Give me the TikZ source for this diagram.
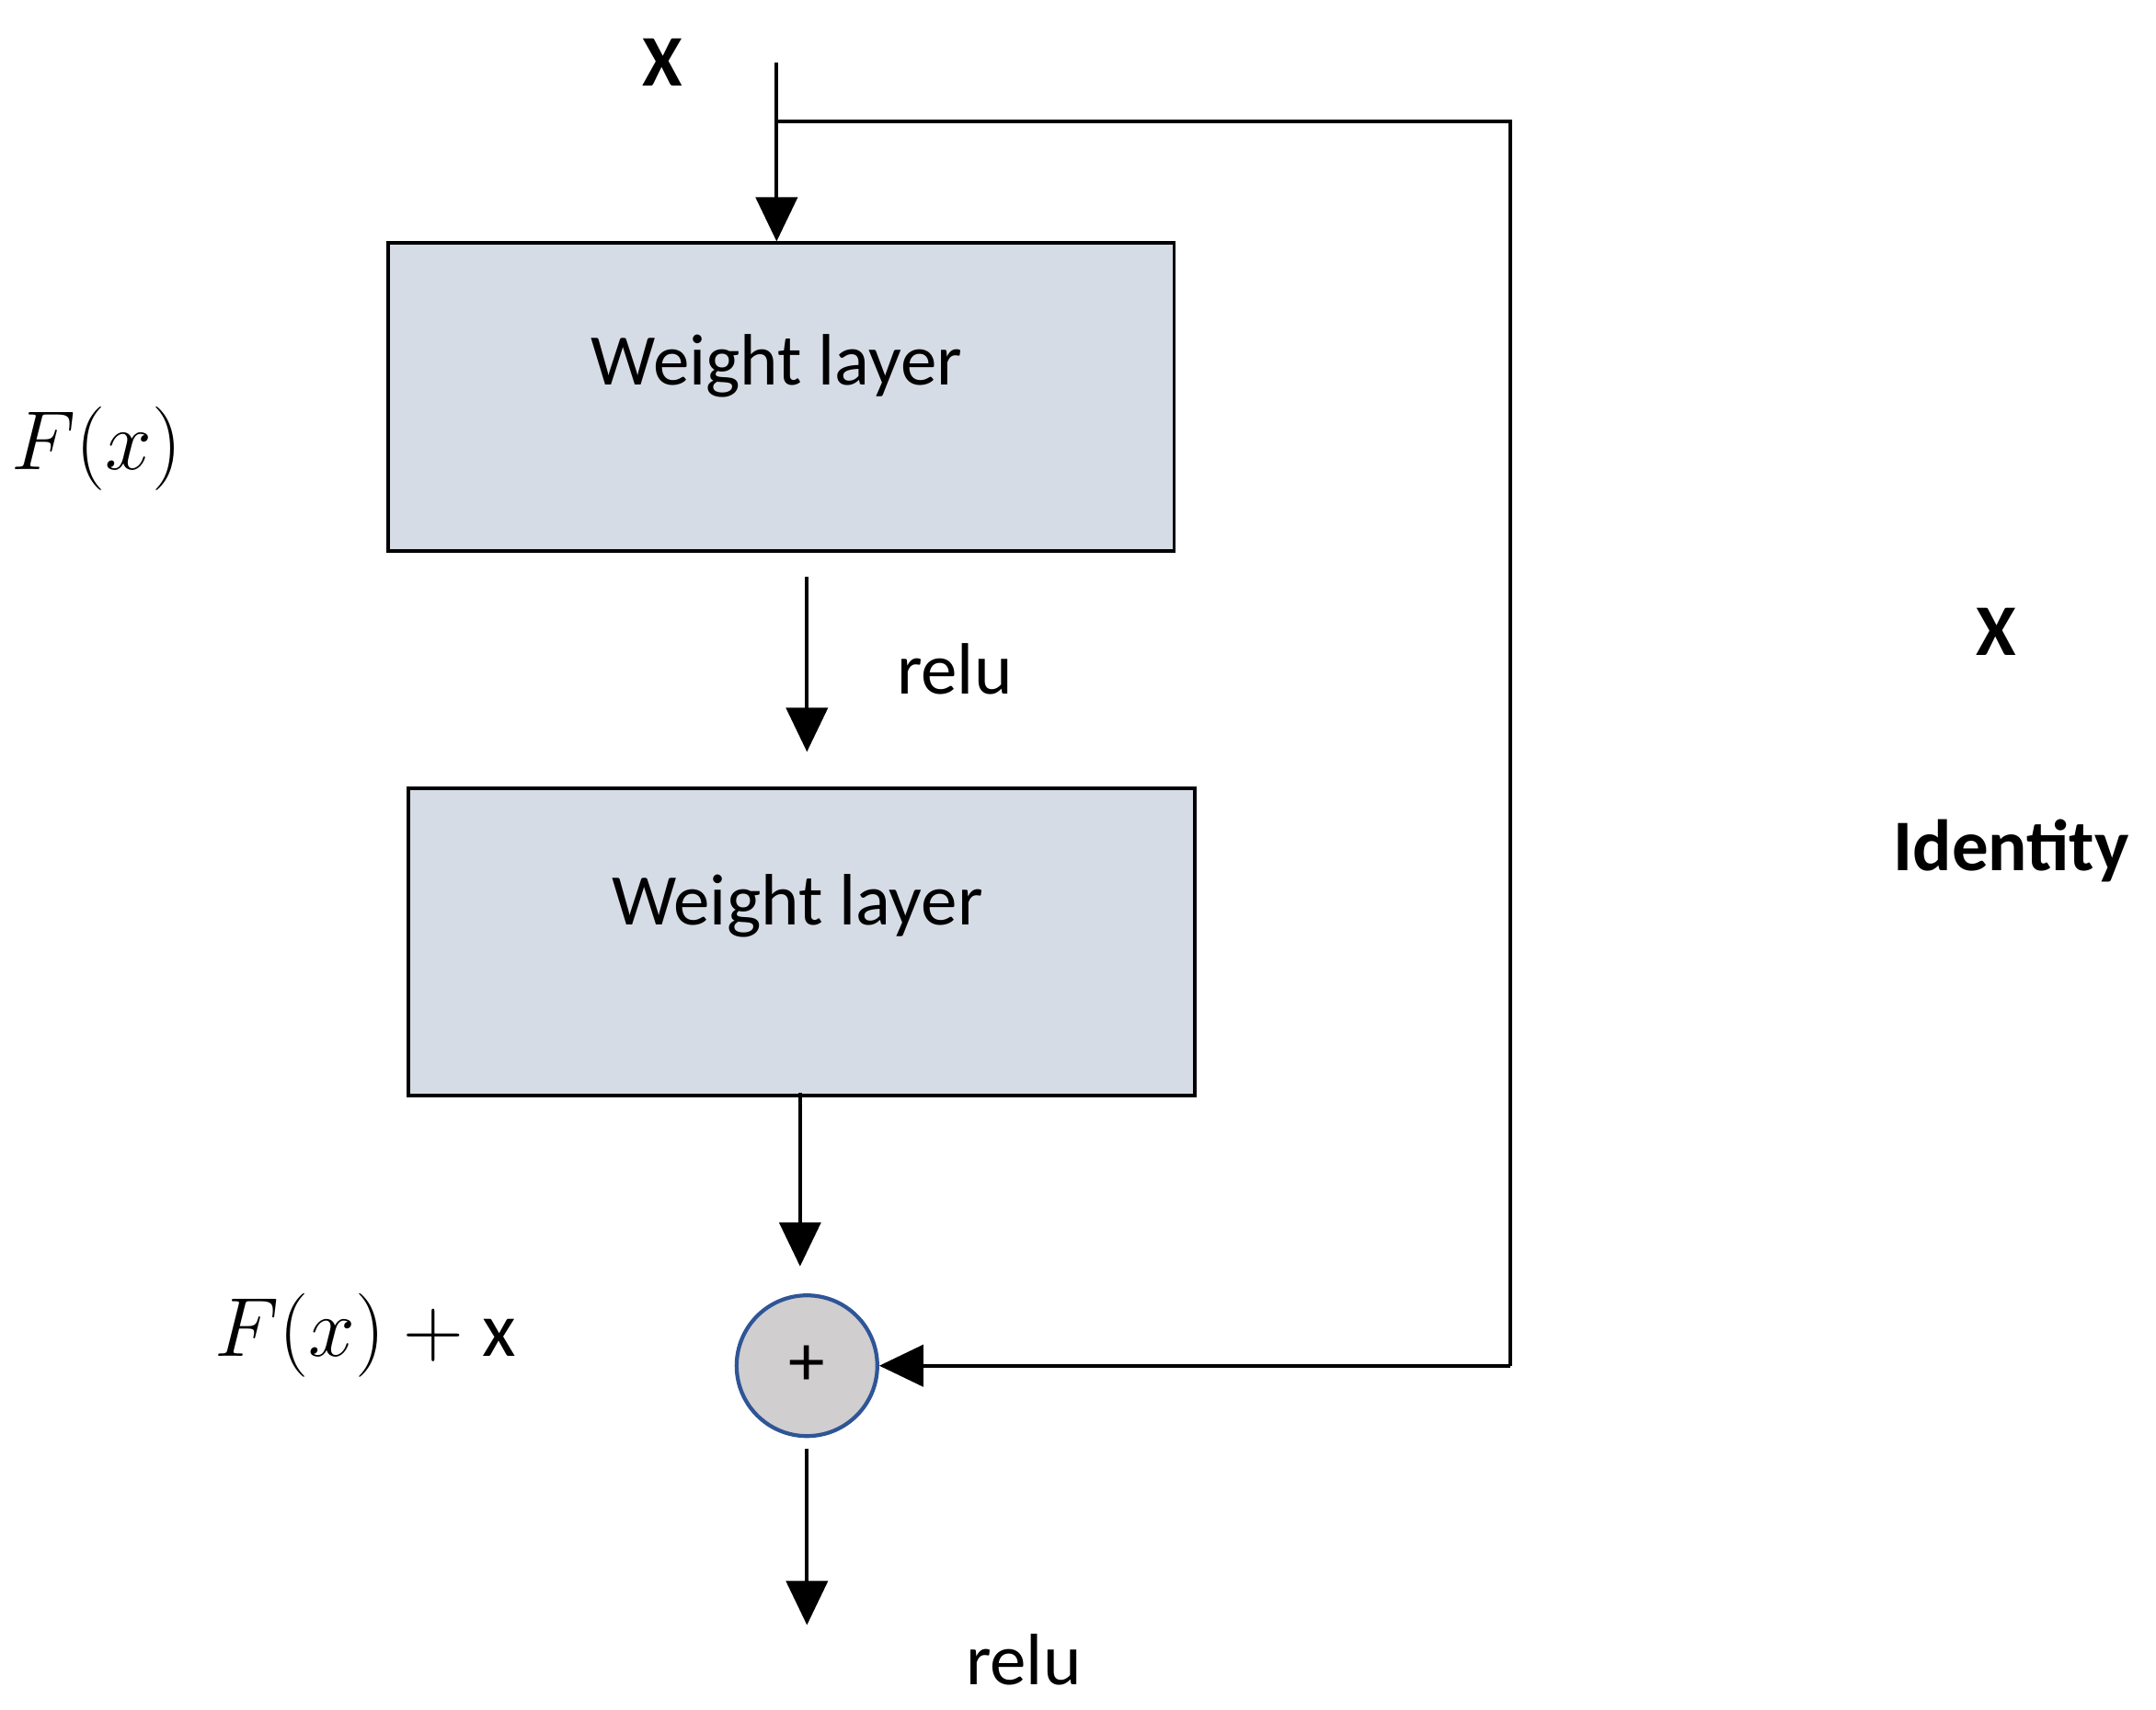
\documentclass[tikz,border=0pt]{standalone}
\usepackage{fontspec}
\setmainfont{Carlito}
\usetikzlibrary{arrows.meta}
\begin{document}
\begin{tikzpicture}[x=0.1mm,y=-0.1mm,
  box/.style={draw=black,line width=0.7pt,fill={rgb,255:red,214;green,220;blue,229},minimum width=57mm,minimum height=22.3mm,inner sep=0,anchor=north west},
  wl/.style={font=\fontsize{15}{18}\selectfont},
  lab/.style={font=\fontsize{15}{18}\selectfont},
  bl/.style={font=\bfseries\fontsize{15}{18}\selectfont},
  arr/.style={line width=0.8pt,-{Triangle[length=3.2mm,width=3mm]}},
  ln/.style={line width=0.8pt}]
\useasboundingbox (0,0) rectangle (1563,1239);
\node[box] (b1) at (280,175) {};
\node[wl] (t1) at (563,265) {Weight layer};
\node[box] (b2) at (295,570) {};
\node[wl] (t2) at (578,657) {Weight layer};
\node[circle,draw={rgb,255:red,47;green,85;blue,151},line width=0.8pt,fill={rgb,255:red,208;green,206;blue,206},minimum size=10.2mm,inner sep=0,font=\fontsize{15}{18}\selectfont] (s) at (585,990) {+};
\coordinate (top) at (563,45);
\coordinate (br) at (563,88);
\coordinate (c1) at (1095,88);
\coordinate (c2) at (1095,990);
\coordinate (a1) at (585,418);
\coordinate (a2) at (585,545);
\coordinate (a3) at (580,792);
\coordinate (a4) at (580,918);
\coordinate (a5) at (585,1050);
\coordinate (a6) at (585,1178);
\draw[arr] (top) -- (b1.north -| top);
\draw[ln] (br) -- (c1) -- (c2);
\draw[arr] (c2) -- (s.east);
\draw[arr] (a1) -- (a2);
\draw[arr] (a3) -- (a4);
\draw[arr] (a5) -- (a6);
\node[bl] (x1) at (480,45) {X};
\node[bl] (x2) at (1447,458) {X};
\node[bl] (id) at (1458,617) {Identity};
\node[lab] (r1) at (692,485) {relu};
\node[lab] (r2) at (742,1203) {relu};
\node[font=\fontsize{16}{19}\selectfont] (f1) at (70,325) {$F(x)$};
\node[font=\fontsize{16}{19}\selectfont] (f2) at (265,968) {$F(x)+\mathrm{x}$};
\end{tikzpicture}
\end{document}
